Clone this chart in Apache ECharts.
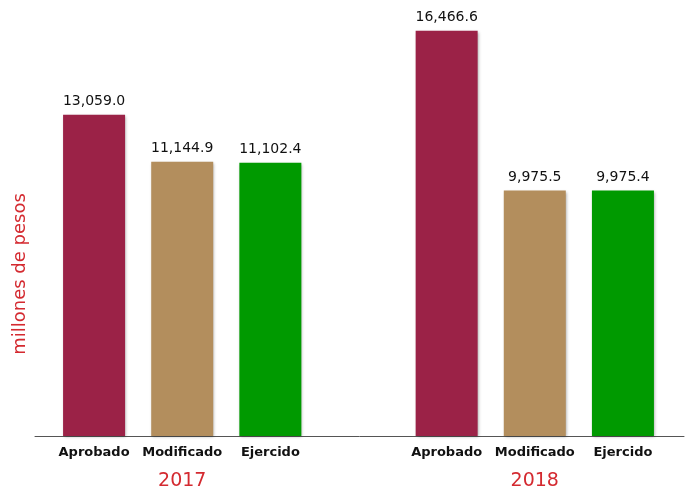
<!DOCTYPE html>
<html>
<head>
<meta charset="utf-8">
<script src="https://cdn.jsdelivr.net/npm/echarts@6/dist/echarts.min.js"></script>
<style>html,body{margin:0;padding:0;background:#fff}#c{width:686px;height:494px}</style>
</head>
<body>
<div id="c"></div>
<script>
// ---- data ----
const categories = ['Aprobado', 'Modificado', 'Ejercido'];
const years = ['2017', '2018'];
const aprobado = [13059.0, 16466.6];
const modificado = [11144.9, 9975.5];
const ejercido = [11102.4, 9975.4];
const yAxisName = 'millones de pesos';

// ---- styles ----
const colors = ['#9b2247', '#b38e5d', '#009a00'];
const red = '#d42a30';
const font = 'DejaVu Sans';

// build slots: group 1, gap, group 2
const seriesByCat = [aprobado, modificado, ejercido];
const slotIds = [], slotLabels = [], yearLabels = [], values = [];
years.forEach((y, yi) => {
  if (yi > 0) { slotIds.push('gap' + yi); slotLabels.push(''); yearLabels.push(''); values.push('-'); }
  categories.forEach((c, ci) => {
    slotIds.push(c + '-' + y);
    slotLabels.push(c);
    yearLabels.push(ci === 1 ? y : '');
    values.push({ value: seriesByCat[ci][yi], itemStyle: { color: colors[ci] } });
  });
});

const chart = echarts.init(document.getElementById('c'));
chart.setOption({
  animation: false,
  grid: [
    { left: 50, right: 19, top: 30, bottom: 58 },
    { left: 35, right: 2, top: 112, bottom: 58 }
  ],
  xAxis: [
    {
      type: 'category', gridIndex: 0, data: slotIds,
      axisLine: { show: false }, axisTick: { show: false },
      axisLabel: {
        interval: 0, margin: 10,
        formatter: (v, i) => slotLabels[i],
        fontFamily: font, fontWeight: 'bold', fontSize: 13, color: '#111'
      }
    },
    {
      type: 'category', gridIndex: 0, data: slotIds, position: 'bottom',
      axisLine: { show: false }, axisTick: { show: false },
      axisLabel: {
        interval: 0, margin: 36,
        formatter: (v, i) => yearLabels[i],
        fontFamily: font, fontSize: 19, color: red
      }
    },
    {
      type: 'category', gridIndex: 1, data: [''],
      axisLine: { show: true, lineStyle: { color: '#555', width: 1 } },
      axisTick: { show: false }, axisLabel: { show: false }
    }
  ],
  yAxis: [
    {
      type: 'value', gridIndex: 0, min: 0, max: 16500,
      axisLine: { show: false }, axisTick: { show: false },
      axisLabel: { show: false }, splitLine: { show: false }
    },
    {
      type: 'value', gridIndex: 1, min: 0, max: 1,
      axisLine: { show: false }, axisTick: { show: false },
      axisLabel: { show: false }, splitLine: { show: false },
      name: yAxisName, nameLocation: 'middle', nameRotate: 90, nameGap: 6,
      nameTextStyle: { fontFamily: font, fontSize: 18, color: red }
    }
  ],
  series: [{
    type: 'bar', xAxisIndex: 0, yAxisIndex: 0,
    data: values, barWidth: 62,
    itemStyle: { shadowBlur: 3, shadowOffsetX: 1, shadowOffsetY: 1, shadowColor: 'rgba(0,0,0,0.35)' },
    label: {
      show: true, position: 'top', distance: 6,
      fontFamily: font, fontSize: 14, color: '#111',
      formatter: p => p.value.toLocaleString('en-US', { minimumFractionDigits: 1, maximumFractionDigits: 1 })
    }
  }]
});
</script>
</body>
</html>
